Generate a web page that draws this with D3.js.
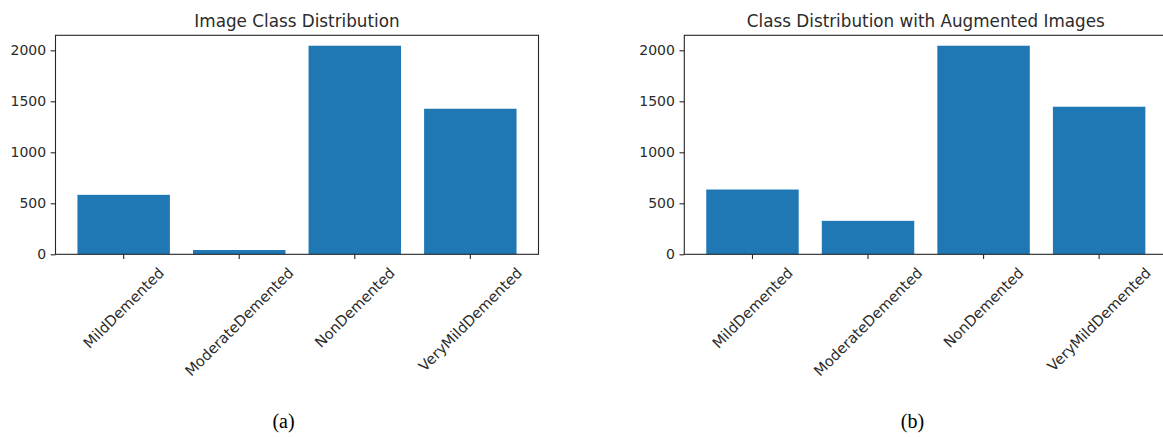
<!DOCTYPE html>
<html>
<head>
<meta charset="utf-8">
<script src="https://cdn.jsdelivr.net/npm/d3@7/dist/d3.min.js"></script>
<style>
  html, body { margin: 0; padding: 0; background: #fff; }
  svg { display: block; }
</style>
</head>
<body>
<svg id="chart" width="1163" height="437"></svg>
<script>
// Class names shared by both panels
const categories = ["MildDemented", "ModerateDemented", "NonDemented", "VeryMildDemented"];
// Image counts per class, before and after augmentation
const originalCounts = [583, 42, 2045, 1427];
const augmentedCounts = [635, 328, 2045, 1447];
const yTickValues = [0, 500, 1000, 1500, 2000];

const panels = [
  { title: "Image Class Distribution", caption: "(a)", values: originalCounts, x0: 55.5, capX: 283.5 },
  { title: "Class Distribution with Augmented Images", caption: "(b)", values: augmentedCounts, x0: 684.3, capX: 912.5 }
];

const svg = d3.select("#chart");
const plotW = 483, plotTop = 35.3, plotBottom = 254.3;
const tickLen = 4.8, tickPad = 4.6;
const font = "'DejaVu Sans', sans-serif";
const textColor = "#2b2b2b";
const barColor = "#1f77b4";

panels.forEach(p => {
  const g = svg.append("g");
  const x = d3.scaleBand()
    .domain(categories)
    .range([p.x0, p.x0 + plotW])
    .paddingInner(0.2)
    .paddingOuter(0.19);
  const y = d3.scaleLinear()
    .domain([0, d3.max(p.values) * 1.05])
    .range([plotBottom, plotTop]);

  // bars
  g.selectAll("rect.bar")
    .data(categories.map((c, i) => ({ c, v: p.values[i] })))
    .join("rect")
    .attr("class", "bar")
    .attr("x", d => x(d.c))
    .attr("width", x.bandwidth())
    .attr("y", d => y(d.v))
    .attr("height", d => y(0) - y(d.v))
    .attr("fill", barColor);

  // frame
  g.append("rect")
    .attr("x", p.x0).attr("y", plotTop)
    .attr("width", plotW).attr("height", plotBottom - plotTop)
    .attr("fill", "none").attr("stroke", "#262626").attr("stroke-width", 1.1);

  // y axis
  const yAxis = g.append("g")
    .attr("transform", `translate(${p.x0},0)`)
    .call(d3.axisLeft(y).tickValues(yTickValues).tickFormat(d3.format("d"))
      .tickSize(tickLen).tickPadding(tickPad).tickSizeOuter(0));
  yAxis.select(".domain").remove();
  yAxis.selectAll("line").attr("stroke", "#262626").attr("stroke-width", 1.1);
  yAxis.selectAll("text")
    .attr("font-family", font).attr("font-size", 14).attr("fill", textColor);

  // x axis ticks
  const xAxis = g.append("g")
    .attr("transform", `translate(0,${plotBottom})`)
    .call(d3.axisBottom(x).tickSize(tickLen).tickSizeOuter(0).tickFormat(""));
  xAxis.select(".domain").remove();
  xAxis.selectAll("line").attr("stroke", "#262626").attr("stroke-width", 1.1);

  // rotated category labels, rotated box centred under each tick
  const labelTop = plotBottom + tickLen + tickPad + 0.5;
  const fs = 14.6, lineH = fs * 1.17;
  categories.forEach(c => {
    const cx = x(c) + x.bandwidth() / 2;
    const t = g.append("text")
      .attr("font-family", font).attr("font-size", fs).attr("fill", textColor)
      .attr("text-anchor", "middle")
      .attr("dy", "0.35em")
      .text(c);
    const w = t.node().getComputedTextLength();
    const half = (w + lineH) / (2 * Math.SQRT2);
    const cy = labelTop + half;
    t.attr("transform", `translate(${cx},${cy}) rotate(-45)`);
  });

  // title
  g.append("text")
    .attr("x", p.x0 + plotW / 2).attr("y", 26.5)
    .attr("text-anchor", "middle")
    .attr("font-family", font).attr("font-size", 16.8).attr("fill", textColor)
    .text(p.title);

  // caption below panel
  g.append("text")
    .attr("x", p.capX).attr("y", 428)
    .attr("text-anchor", "middle")
    .attr("font-family", "'Liberation Serif', 'Times New Roman', serif")
    .attr("font-size", 20).attr("fill", "#000")
    .text(p.caption);
});
</script>
</body>
</html>
